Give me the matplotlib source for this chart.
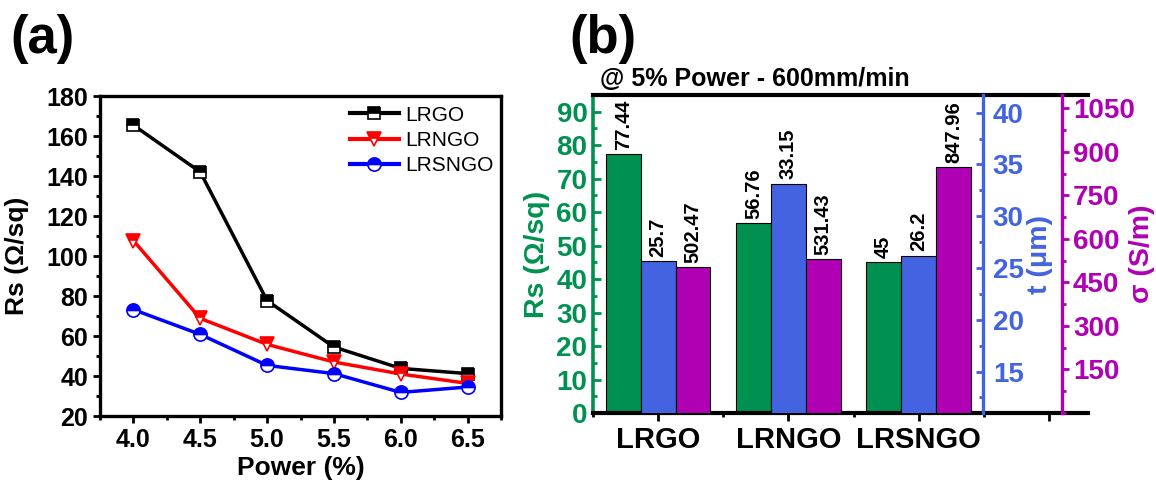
import matplotlib
matplotlib.use("Agg")
from matplotlib import pyplot as plt
from matplotlib.ticker import MultipleLocator
import numpy as np

plt.rcParams['font.family'] = ['Liberation Sans', 'DejaVu Sans']
plt.rcParams['font.weight'] = 'bold'

# panel (a) data
power = [4.0, 4.5, 5.0, 5.5, 6.0, 6.5]
rs_lrgo = [165.4, 142.0, 77.7, 54.5, 43.8, 41.2]
rs_lrngo = [107.7, 68.8, 55.8, 47.0, 41.0, 36.3]
rs_lrsngo = [73.2, 60.8, 45.3, 41.2, 31.8, 34.5]

# panel (b) data
samples = ['LRGO', 'LRNGO', 'LRSNGO']
rs_5pct = [77.44, 56.76, 45]
thickness = [25.7, 33.15, 26.2]
conductivity = [502.47, 531.43, 847.96]

GREEN = '#009150'
BLUE = '#4363E0'
PURPLE = '#B000B4'

W, H = 1156, 484
fig = plt.figure(figsize=(W / 100, H / 100), dpi=100)

# ---------- (a) ----------
ax = fig.add_axes([100 / W, 1 - 416 / H, 401 / W, 320 / H])
ax.plot(power, rs_lrgo, color='black', lw=2.5, marker='s', ms=8.5,
        fillstyle='top', markerfacecoloralt='white', mec='black', mew=1.2, label='LRGO')
ax.plot(power, rs_lrngo, color='red', lw=2.5, marker='v', ms=10.5,
        fillstyle='top', markerfacecoloralt='white', mec='red', mew=1.2, label='LRNGO')
ax.plot(power, rs_lrsngo, color='blue', lw=2.5, marker='o', ms=9.5,
        fillstyle='top', markerfacecoloralt='white', mec='blue', mew=1.2, label='LRSNGO')

ax.set_xlim(3.75, 6.75)
ax.set_ylim(20, 180)
ax.set_xticks(np.arange(4.0, 6.51, 0.5))
ax.set_yticks(np.arange(20, 181, 20))
ax.xaxis.set_minor_locator(MultipleLocator(0.25))
ax.yaxis.set_minor_locator(MultipleLocator(10))
ax.tick_params(which='both', direction='out', width=2, top=False, right=False,
               labelsize=18, pad=3.5)
ax.tick_params(which='major', length=5)
ax.tick_params(which='minor', length=3)
for s in ax.spines.values():
    s.set_linewidth(2.4)
ax.set_xlabel('Power (%)', fontsize=19, fontweight='bold')
ax.set_ylabel('Rs (Ω/sq)', fontsize=19, fontweight='bold')
ax.yaxis.set_label_coords(-0.177, 0.5)
ax.xaxis.set_label_coords(0.5, -0.125)
leg = ax.legend(loc='upper left', bbox_to_anchor=(0.623, 0.97), frameon=False,
                borderpad=0, borderaxespad=0, handlelength=2.35, handletextpad=0.3,
                labelspacing=0.3, prop={'size': 15, 'weight': 'normal'})
for ln in leg.get_lines():
    ln.set_linewidth(3)

fig.text(10 / W, 1 - 39 / H, '(a)', fontsize=38, fontweight='bold', ha='left', va='center')

# ---------- (b) ----------
axb = fig.add_axes([593 / W, 1 - 413 / H, 495 / W, 318 / H])
axt = axb.twinx()
axs = axb.twinx()

x = np.arange(1, len(samples) + 1)
bw = 0.268
bars_rs = axb.bar(x - bw, rs_5pct, bw, color=GREEN, edgecolor='black', lw=0.8)
bars_t = axt.bar(x, thickness, bw, color=BLUE, edgecolor='black', lw=0.8)
bars_s = axs.bar(x + bw, conductivity, bw, color=PURPLE, edgecolor='black', lw=0.8)

for a, bars, vals in [(axb, bars_rs, rs_5pct), (axt, bars_t, thickness), (axs, bars_s, conductivity)]:
    for b, v in zip(bars, vals):
        a.annotate(f'{v:g}', (b.get_x() + b.get_width() / 2, v), xytext=(0, 3),
                   textcoords='offset points', rotation=90, ha='center', va='bottom',
                   fontsize=14.5, fontweight='bold', color='black')

axb.set_xlim(0.5, 4.3)
axb.set_ylim(0, 95)
axt.set_ylim(11.0, 41.7)
axs.set_ylim(0, 1096)

axb.set_xticks([1, 2, 3, 4])
axb.set_xticklabels(samples + [''])
axb.xaxis.set_minor_locator(MultipleLocator(0.5))
axb.tick_params(axis='x', which='both', direction='out', width=2, top=False,
                labelsize=21, pad=3)
axb.tick_params(axis='x', which='major', length=6)
axb.tick_params(axis='x', which='minor', length=3)

axb.set_yticks(np.arange(0, 91, 10))
axb.yaxis.set_minor_locator(MultipleLocator(5))
axb.tick_params(axis='y', which='both', direction='in', width=2, colors=GREEN,
                labelsize=20, pad=4)
axb.tick_params(axis='y', which='major', length=6)
axb.tick_params(axis='y', which='minor', length=3)

axt.set_yticks(np.arange(15, 41, 5))
axt.yaxis.set_minor_locator(MultipleLocator(2.5))
axt.tick_params(axis='y', which='both', direction='in', width=2, colors=BLUE,
                labelsize=20, pad=7)
axt.tick_params(axis='y', which='major', length=5)
axt.tick_params(axis='y', which='minor', length=3)

axs.set_yticks(np.arange(150, 1051, 150))
axs.yaxis.set_minor_locator(MultipleLocator(75))
axs.tick_params(axis='y', which='both', direction='out', width=2, colors=PURPLE,
                labelsize=20, pad=3)
axs.tick_params(axis='y', which='major', length=5)
axs.tick_params(axis='y', which='minor', length=3)

for s in ['top', 'bottom']:
    axb.spines[s].set_linewidth(3)
    axb.spines[s].set_color('black')
axb.spines['left'].set_linewidth(2.6)
axb.spines['left'].set_color(GREEN)
axb.spines['right'].set_visible(False)

for a, pos, col in [(axt, 0.788, BLUE), (axs, 0.947, PURPLE)]:
    for s in ['top', 'bottom', 'left']:
        a.spines[s].set_visible(False)
    a.spines['right'].set_position(('axes', pos))
    a.spines['right'].set_color(col)
    a.spines['right'].set_linewidth(2.4)

axb.set_ylabel('Rs (Ω/sq)', fontsize=20.5, fontweight='bold', color=GREEN)
axb.yaxis.set_label_coords(-0.113, 0.5)
axb.yaxis.label.set_va('center')
axt.set_ylabel('t (μm)', fontsize=20.5, fontweight='bold', color=BLUE)
axt.yaxis.set_label_coords(0.903, 0.5)
axt.yaxis.label.set_va('center')
axs.set_ylabel('σ (S/m)', fontsize=20.5, fontweight='bold', color=PURPLE)
axs.yaxis.set_label_coords(1.109, 0.5)
axs.yaxis.label.set_va('center')

fig.text(600 / W, 1 - 79 / H, '@ 5% Power - 600mm/min', fontsize=18, fontweight='bold',
         ha='left', va='center')
fig.text(569 / W, 1 - 39 / H, '(b)', fontsize=38, fontweight='bold', ha='left', va='center')

fig.savefig('out.png', dpi=100)
